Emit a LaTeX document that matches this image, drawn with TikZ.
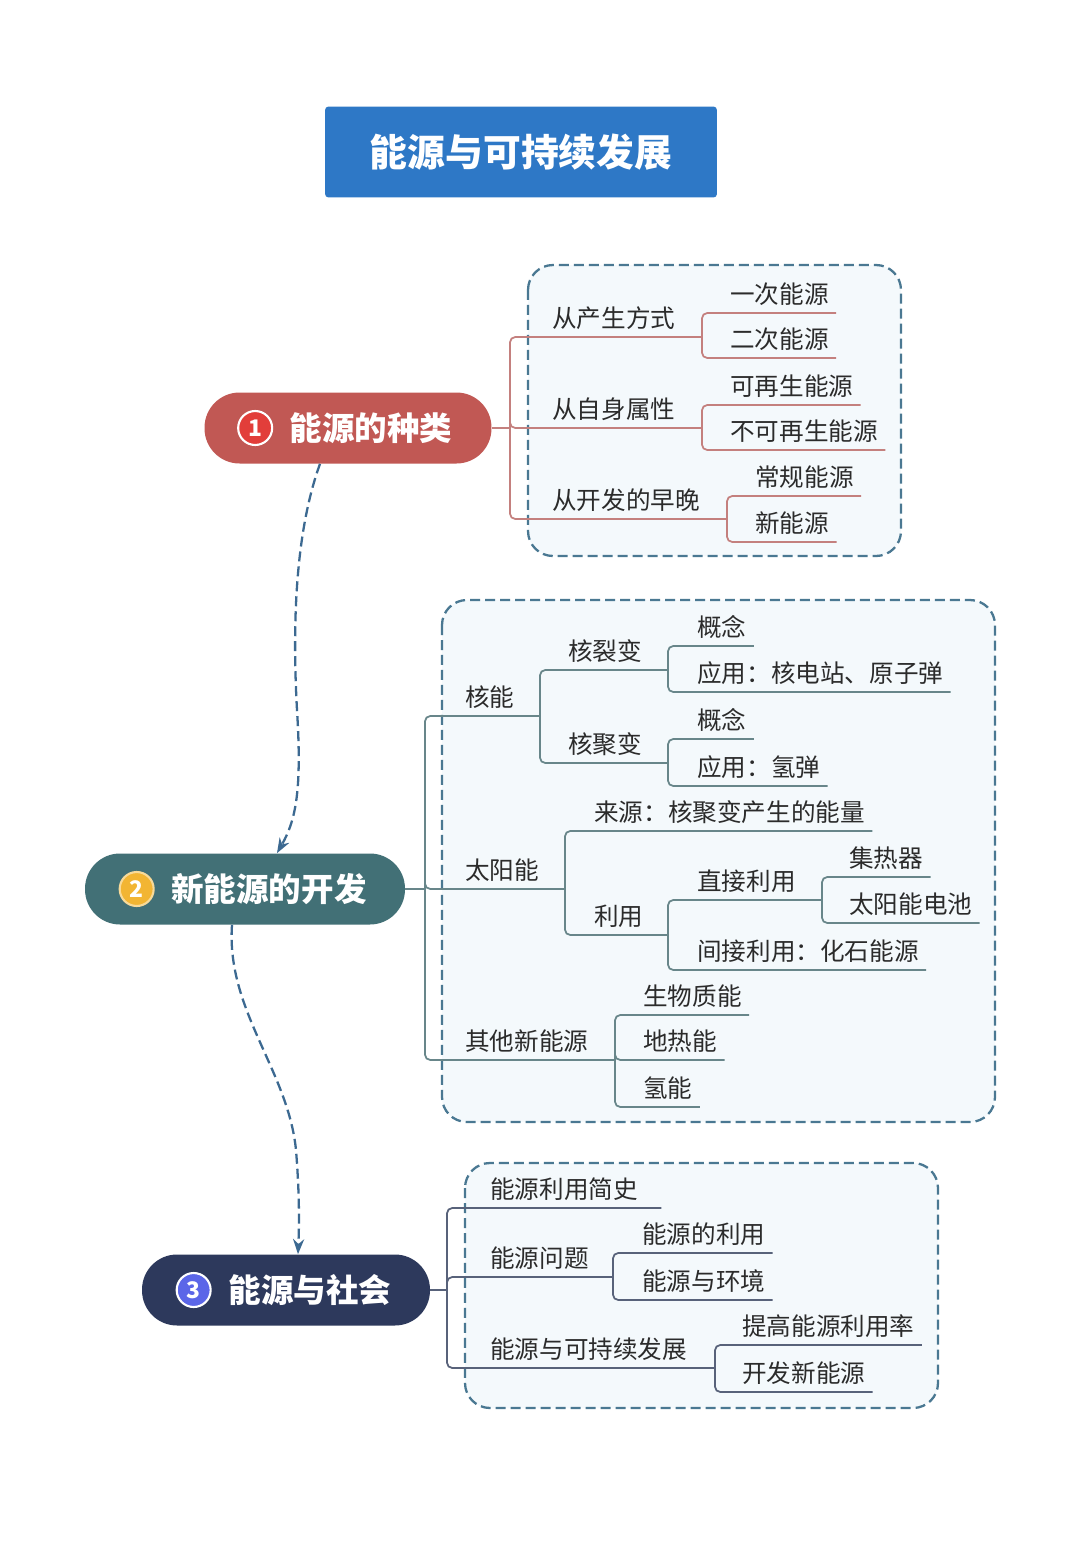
\documentclass[tikz,border=0pt]{standalone}
\usepackage{fontspec}
\setmainfont{Noto Sans CJK SC}
\usepackage{xcolor}
\definecolor{entitle}{RGB}{46,120,198}
\definecolor{enred}{RGB}{193,88,84}
\definecolor{enteal}{RGB}{66,112,118}
\definecolor{ennavy}{RGB}{45,57,92}
\definecolor{endot1}{RGB}{226,62,58}
\definecolor{endot2}{RGB}{242,181,51}
\definecolor{endot3}{RGB}{91,102,232}
\definecolor{enframe}{RGB}{74,120,146}
\definecolor{enfill}{RGB}{244,249,252}
\definecolor{entext}{RGB}{43,43,43}
\definecolor{enline1}{RGB}{196,128,126}
\definecolor{enline2}{RGB}{104,134,138}
\definecolor{enline3}{RGB}{88,98,122}
\definecolor{enarrow}{RGB}{60,105,145}
\usetikzlibrary{arrows.meta, calc}

\tikzset{
  pill/.style={rounded corners=0.7cm, minimum height=1.42cm, inner sep=0pt, text=white, font=\fontsize{18.5}{22}\selectfont\bfseries},
  numdot/.style={circle, minimum size=0.68cm, inner sep=0pt, draw=white, line width=1.2pt, text=white, font=\fontsize{13}{15}\selectfont\bfseries},
  leaf/.style={anchor=south west, inner xsep=0pt, inner ysep=3pt, text depth=2pt, text=entext, font=\fontsize{14}{16}\selectfont},
  branch/.style={line width=1pt, rounded corners=3pt},
  frame/.style={draw=enframe, fill=enfill, dash pattern=on 0.2cm off 0.1cm, line width=1.3pt, rounded corners=0.5cm},
  flow/.style={draw=enarrow, dash pattern=on 0.2cm off 0.1cm, line width=1.3pt, -{Stealth[length=0.3cm,width=0.22cm]}},
}

\begin{document}
\begin{tikzpicture}[x=0.02cm, y=-0.02cm]
  \useasboundingbox[fill=white] (0,0) rectangle (1080,1549);

  % Title banner
  \node[fill=entitle, rounded corners=2pt, minimum width=7.84cm, minimum height=1.82cm, text=white, font=\fontsize{21.5}{26}\selectfont\bfseries] (title) at (521,152) {能源与可持续发展};

  % Dashed frames
  \draw[frame] (528,265) rectangle (901,556);
  \draw[frame] (442,600) rectangle (995,1122);
  \draw[frame] (465,1163) rectangle (938,1408);

  % --- Branch 1: kinds of energy ---
  \node[pill, fill=enred, minimum width=5.74cm] (m1) at (348,428) {\hspace{0.92cm}能源的种类};
  \node[numdot, fill=endot1] (d1) at ([xshift=1.02cm]m1.west) {1};
  \coordinate (k1) at (510,428);
  \node[leaf] (a1) at (552,337) {从产生方式};
  \node[leaf] (a2) at (552,428) {从自身属性};
  \node[leaf] (a3) at (552,519) {从开发的早晚};
  \coordinate (ja1) at (702,337);
  \coordinate (ja2) at (702,428);
  \coordinate (ja3) at (727,519);
  \node[leaf] (a11) at (730,313) {一次能源};
  \node[leaf] (a12) at (730,358) {二次能源};
  \node[leaf] (a21) at (730,405) {可再生能源};
  \node[leaf] (a22) at (730,450) {不可再生能源};
  \node[leaf] (a31) at (755,496) {常规能源};
  \node[leaf] (a32) at (755,542) {新能源};

  \draw[branch, enline1] (m1.east) -- (k1);
  \foreach \j in {ja1,ja2,ja3}
    \draw[branch, enline1] (k1) |- (\j);
  \foreach \n/\j in {a11/ja1, a12/ja1, a21/ja2, a22/ja2, a31/ja3, a32/ja3}
    \draw[branch, enline1] (\j) |- ([xshift=0.14cm]\n.south east);

  % --- Branch 2: developing new energy ---
  \node[pill, fill=enteal, minimum width=6.4cm] (m2) at (245,889) {\hspace{0.96cm}新能源的开发};
  \node[numdot, fill=endot2, draw=endot2!50!white] (d2) at ([xshift=1.04cm]m2.west) {2};
  \coordinate (k2) at (425,889);
  \node[leaf] (b1) at (465,716) {核能};
  \node[leaf] (b2) at (465,889) {太阳能};
  \node[leaf] (b3) at (465,1060) {其他新能源};
  \coordinate (jb1) at (540,716);
  \coordinate (jb2) at (565,889);
  \coordinate (jb3) at (615,1060);
  % nuclear
  \node[leaf] (b11) at (568,670) {核裂变};
  \node[leaf] (b12) at (568,763) {核聚变};
  \coordinate (jb11) at (668,670);
  \coordinate (jb12) at (668,763);
  \node[leaf] (b111) at (697,646) {概念};
  \node[leaf] (b112) at (697,692) {应用：核电站、原子弹};
  \node[leaf] (b121) at (697,739) {概念};
  \node[leaf] (b122) at (697,786) {应用：氢弹};
  % solar
  \node[leaf] (b21) at (594,831) {来源：核聚变产生的能量};
  \node[leaf] (b22) at (594,935) {利用};
  \coordinate (jb22) at (668,935);
  \node[leaf] (b221) at (697,900) {直接利用};
  \node[leaf] (b222) at (697,970) {间接利用：化石能源};
  \coordinate (jb221) at (822,900);
  \node[leaf] (b2211) at (849,877) {集热器};
  \node[leaf] (b2212) at (849,923) {太阳能电池};
  % others
  \node[leaf] (b31) at (643,1015) {生物质能};
  \node[leaf] (b32) at (643,1060) {地热能};
  \node[leaf] (b33) at (643,1107) {氢能};

  \draw[branch, enline2] (m2.east) -- (k2);
  \foreach \j in {jb1,jb2,jb3}
    \draw[branch, enline2] (k2) |- (\j);
  \foreach \a/\j in {jb1/jb11, jb1/jb12, jb2/jb22, jb22/jb221}
    \draw[branch, enline2] (\a) |- (\j);
  \foreach \n/\j in {b111/jb11, b112/jb11, b121/jb12, b122/jb12, b21/jb2, b222/jb22, b2211/jb221, b2212/jb221, b31/jb3, b32/jb3, b33/jb3}
    \draw[branch, enline2] (\j) |- ([xshift=0.14cm]\n.south east);

  % --- Branch 3: energy and society ---
  \node[pill, fill=ennavy, minimum width=5.76cm] (m3) at (286,1290) {\hspace{0.96cm}能源与社会};
  \node[numdot, fill=endot3] (d3) at ([xshift=1.04cm]m3.west) {3};
  \coordinate (k3) at (447,1290);
  \node[leaf] (c1) at (490,1208) {能源利用简史};
  \node[leaf] (c2) at (490,1277) {能源问题};
  \node[leaf] (c3) at (490,1368) {能源与可持续发展};
  \coordinate (jc2) at (613,1277);
  \coordinate (jc3) at (715,1368);
  \node[leaf] (c21) at (642,1253) {能源的利用};
  \node[leaf] (c22) at (642,1300) {能源与环境};
  \node[leaf] (c31) at (742,1345) {提高能源利用率};
  \node[leaf] (c32) at (742,1392) {开发新能源};

  \draw[branch, enline3] (m3.east) -- (k3);
  \draw[branch, enline3] (k3) |- ([xshift=0.46cm]c1.south east);
  \foreach \j in {jc2,jc3}
    \draw[branch, enline3] (k3) |- (\j);
  \foreach \n/\j in {c21/jc2, c22/jc2, c31/jc3, c32/jc3}
    \draw[branch, enline3] (\j) |- ([xshift=0.14cm]\n.south east);

  % Dashed flow between main topics
  \draw[flow] ([xshift=-0.56cm]m1.south) .. controls (296,530) and (292,620) .. (297,710)
    .. controls (302,790) and (296,820) .. ([xshift=0.64cm]m2.north);
  \draw[flow] ([xshift=-0.26cm]m2.south) .. controls (226,1010) and (288,1070) .. (296,1150)
    .. controls (300,1200) and (299,1230) .. ([xshift=0.24cm]m3.north);
\end{tikzpicture}
\end{document}
